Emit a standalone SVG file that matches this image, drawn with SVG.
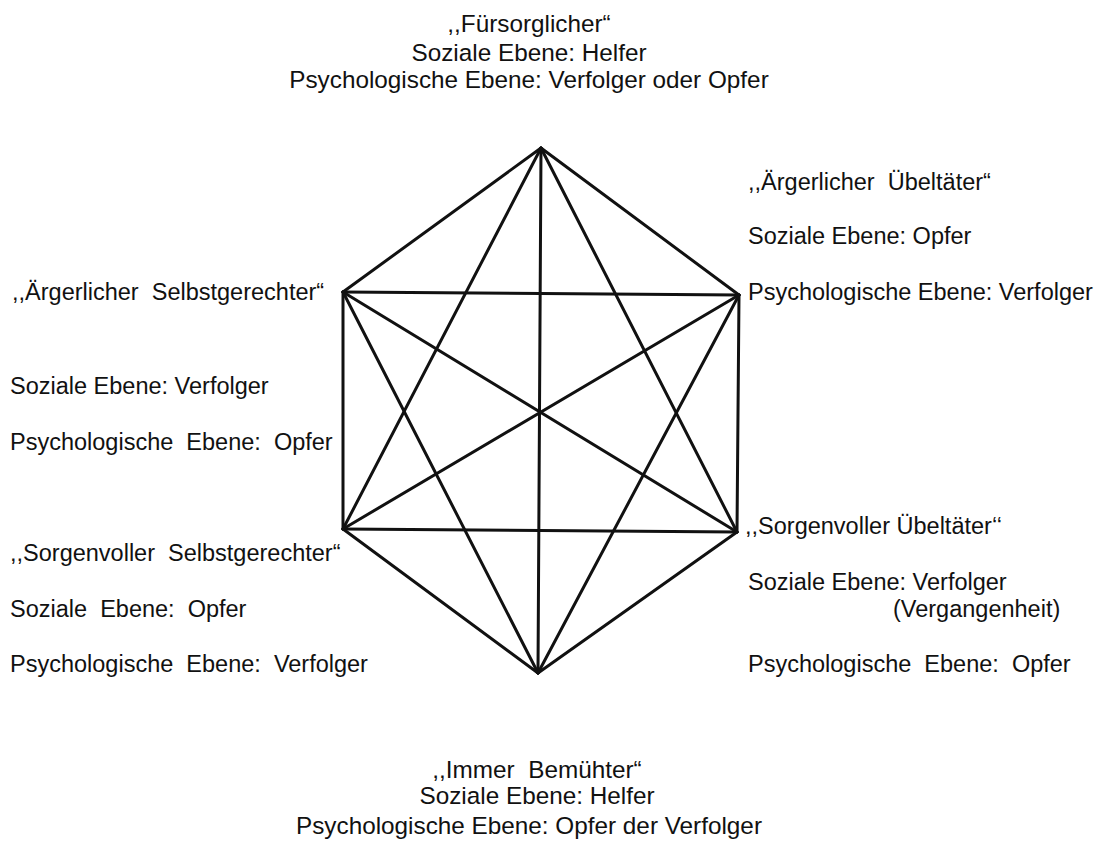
<svg xmlns="http://www.w3.org/2000/svg" width="1099" height="849" viewBox="0 0 1099 849">
<style>
text{font-family:"Liberation Sans",Arial,sans-serif;font-size:23.5px;fill:#111;white-space:pre}
.c{text-anchor:middle;font-size:24.3px}
.e{stroke:#111;stroke-width:3;stroke-linecap:round;fill:none}
</style>
<rect width="1099" height="849" fill="#fff"/>
<g id="connectors">
<line class="e" x1="541" y1="148" x2="343" y2="292"/>
<line class="e" x1="541" y1="148" x2="739" y2="295"/>
<line class="e" x1="343" y1="292" x2="343" y2="529"/>
<line class="e" x1="739" y1="295" x2="737" y2="532"/>
<line class="e" x1="343" y1="529" x2="538" y2="673"/>
<line class="e" x1="737" y1="532" x2="538" y2="673"/>
<line class="e" x1="343" y1="292" x2="739" y2="295"/>
<line class="e" x1="343" y1="529" x2="737" y2="532"/>
<line class="e" x1="541" y1="148" x2="538" y2="673"/>
<line class="e" x1="343" y1="292" x2="737" y2="532"/>
<line class="e" x1="739" y1="295" x2="343" y2="529"/>
<line class="e" x1="541" y1="148" x2="343" y2="529"/>
<line class="e" x1="541" y1="148" x2="737" y2="532"/>
<line class="e" x1="343" y1="292" x2="538" y2="673"/>
<line class="e" x1="739" y1="295" x2="538" y2="673"/>
</g>
<g id="node-top">
<text class="c" x="529" y="32">,,Fürsorglicher“</text>
<text class="c" x="529" y="61">Soziale Ebene: Helfer</text>
<text class="c" x="529" y="88">Psychologische Ebene: Verfolger oder Opfer</text>
</g>
<g id="node-upper-right">
<text x="748" y="190">,,Ärgerlicher  Übeltäter“</text>
<text x="748" y="244">Soziale Ebene: Opfer</text>
<text x="748" y="300">Psychologische Ebene: Verfolger</text>
</g>
<g id="node-upper-left">
<text x="12" y="300">,,Ärgerlicher  Selbstgerechter“</text>
<text x="10" y="394">Soziale Ebene: Verfolger</text>
<text x="10" y="450">Psychologische  Ebene:  Opfer</text>
</g>
<g id="node-lower-left">
<text x="10" y="561">,,Sorgenvoller  Selbstgerechter“</text>
<text x="10" y="617">Soziale  Ebene:  Opfer</text>
<text x="10" y="672">Psychologische  Ebene:  Verfolger</text>
</g>
<g id="node-lower-right">
<text x="745" y="534">,,Sorgenvoller Übeltäter‘‘</text>
<text x="748" y="590">Soziale Ebene: Verfolger</text>
<text x="893" y="617">(Vergangenheit)</text>
<text x="748" y="672">Psychologische  Ebene:  Opfer</text>
</g>
<g id="node-bottom">
<text class="c" x="537" y="778">,,Immer  Bemühter“</text>
<text class="c" x="537" y="804">Soziale Ebene: Helfer</text>
<text class="c" x="529" y="834">Psychologische Ebene: Opfer der Verfolger</text>
</g>
</svg>
